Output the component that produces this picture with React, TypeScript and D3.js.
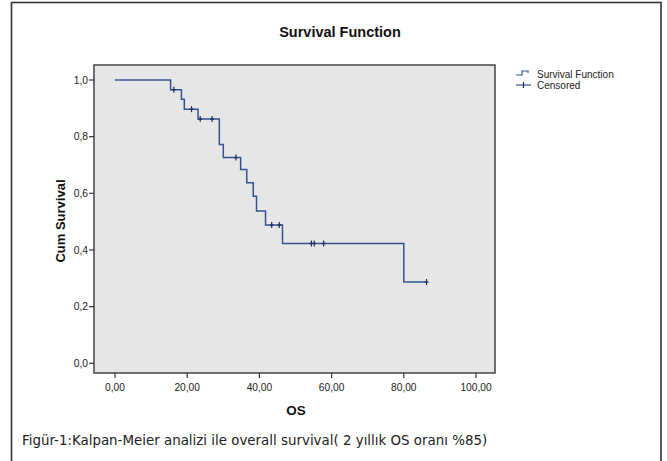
import React from "react";
import * as d3 from "d3";

// Kaplan-Meier step curve: time of each drop and survival after it
const stepTimes = [0, 15.4, 18.4, 19.2, 23.0, 28.9, 30.0, 34.8, 36.5, 38.3, 39.2, 41.7, 46.4, 80.0];
const stepSurvival = [1.0, 0.966, 0.932, 0.897, 0.862, 0.772, 0.726, 0.684, 0.637, 0.59, 0.538, 0.488, 0.423, 0.287];
// censored observations (months)
const censorTimes = [16.3, 21.2, 23.6, 26.9, 33.5, 43.4, 45.5, 54.4, 55.2, 57.8, 86.3];

const xTicks = [0, 20, 40, 60, 80, 100];
const yTicks = [0, 0.2, 0.4, 0.6, 0.8, 1.0];
const legendLabels = ["Survival Function", "Censored"];

const W = 667;
const H = 461;
const LINE = "#36538f";
const MARK = "#1d2c5c";
const FONT = "Liberation Sans, Arial, sans-serif";

function survivalAt(t: number): number {
  let s = stepSurvival[0];
  for (let i = 0; i < stepTimes.length; i++) {
    if (stepTimes[i] <= t) s = stepSurvival[i];
  }
  return s;
}

export default function App() {
  const plot = { x: 94, y: 65, w: 401, h: 308 };
  const x = d3.scaleLinear().domain([0, 100]).range([115, 476]);
  const y = d3.scaleLinear().domain([0, 1]).range([363.3, 80]);

  const pts: [number, number][] = stepTimes.map((t, i) => [t, stepSurvival[i]]);
  const lastT = d3.max(censorTimes) as number;
  pts.push([lastT, survivalAt(lastT)]);
  const path = d3
    .line<[number, number]>()
    .x((d) => x(d[0]))
    .y((d) => y(d[1]))
    .curve(d3.curveStepAfter)(pts) as string;

  const fmtX = (v: number) => v.toFixed(2).replace(".", ",");
  const fmtY = (v: number) => v.toFixed(1).replace(".", ",");

  return (
    <svg
      width={W}
      height={H}
      style={{ position: "absolute", left: 0, top: 0, background: "#fff" }}
    >
      <rect x={0} y={0} width={W} height={H} fill="#fff" />
      {/* page frame */}
      <rect x={11.5} y={2.5} width={649.5} height={470} fill="none" stroke="#333" strokeWidth={1.6} />

      <text x={340} y={37} textAnchor="middle" fontFamily={FONT} fontWeight="bold" fontSize={14.5} fill="#111">
        Survival Function
      </text>

      {/* plot area */}
      <rect x={plot.x} y={plot.y} width={plot.w} height={plot.h} fill="#e6e6e6" stroke="#444" strokeWidth={1.5} />

      {/* y axis */}
      {yTicks.map((v) => (
        <g key={"y" + v}>
          <line x1={plot.x - 5} x2={plot.x} y1={y(v)} y2={y(v)} stroke="#333" strokeWidth={1.2} />
          <text x={plot.x - 6} y={y(v) + 3.7} textAnchor="end" fontFamily={FONT} fontSize={10.3} fill="#222">
            {fmtY(v)}
          </text>
        </g>
      ))}
      <text
        transform={`translate(65,221) rotate(-90)`}
        textAnchor="middle"
        fontFamily={FONT}
        fontWeight="bold"
        fontSize={13}
        fill="#111"
      >
        Cum Survival
      </text>

      {/* x axis */}
      {xTicks.map((v) => (
        <g key={"x" + v}>
          <line x1={x(v)} x2={x(v)} y1={plot.y + plot.h} y2={plot.y + plot.h + 5} stroke="#333" strokeWidth={1.2} />
          <text x={x(v)} y={390.5} textAnchor="middle" fontFamily={FONT} fontSize={10.2} fill="#222">
            {fmtX(v)}
          </text>
        </g>
      ))}
      <text x={296} y={415} textAnchor="middle" fontFamily={FONT} fontWeight="bold" fontSize={13.5} fill="#111">
        OS
      </text>

      {/* survival curve */}
      <path d={path} fill="none" stroke={LINE} strokeWidth={1.5} />
      {censorTimes.map((t, i) => (
        <g key={"c" + i} stroke={MARK} strokeWidth={1.2}>
          <line x1={x(t)} x2={x(t)} y1={y(survivalAt(t)) - 3} y2={y(survivalAt(t)) + 3} />
          <line x1={x(t) - 2} x2={x(t) + 2} y1={y(survivalAt(t))} y2={y(survivalAt(t))} />
        </g>
      ))}

      {/* legend */}
      <g>
        <path d="M516,75 H522 V71 H528 V73" fill="none" stroke={LINE} strokeWidth={1.2} />
        <text x={537} y={77.5} fontFamily={FONT} fontSize={10} fill="#222">
          {legendLabels[0]}
        </text>
        <line x1={516} x2={531} y1={85} y2={85} stroke={LINE} strokeWidth={1.2} />
        <line x1={523.5} x2={523.5} y1={82} y2={88} stroke={MARK} strokeWidth={1.2} />
        <text x={537} y={88.5} fontFamily={FONT} fontSize={10} fill="#222">
          {legendLabels[1]}
        </text>
      </g>

      {/* figure caption */}
      <text x={22} y={445} fontFamily="DejaVu Sans, Verdana, sans-serif" fontSize={13.4} fill="#222">
        Figür-1:Kalpan-Meier analizi ile overall survival( 2 yıllık OS oranı %85)
      </text>
    </svg>
  );
}
